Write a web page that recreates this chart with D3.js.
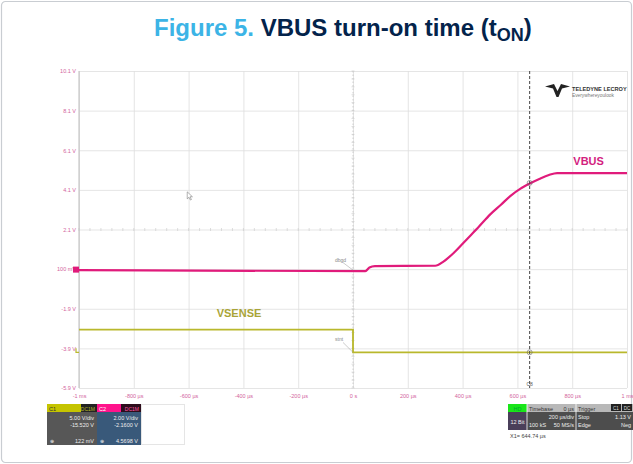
<!DOCTYPE html>
<html>
<head>
<meta charset="utf-8">
<script src="https://cdn.jsdelivr.net/npm/d3@7"></script>
<style>
  body { margin: 0; background: #fff; }
  text { font-family: "Liberation Sans", Arial, sans-serif; }
</style>
</head>
<body>
<div id="chart"></div>
<script>
// data
var xTicks = [-1000, -800, -600, -400, -200, 0, 200, 400, 600, 800, 1000];
var xTickLabels = ["-1 ms", "-800 µs", "-600 µs", "-400 µs", "-200 µs", "0 s", "200 µs", "400 µs", "600 µs", "800 µs", "1 ms"];
var yTicks = [10.1, 8.1, 6.1, 4.1, 2.1, 0.1, -1.9, -3.9, -5.9];
var yTickLabels = ["10.1 V", "8.1 V", "6.1 V", "4.1 V", "2.1 V", "100 mV", "-1.9 V", "-3.9 V", "-5.9 V"];

// VBUS (C2), time in µs, volts on the screen scale
var vbusTime = [-1000, 45, 60, 80, 300, 330, 370, 415, 460, 500, 540, 575, 610, 645, 680, 715, 745, 1000];
var vbusVolt = [0.05, 0.0, 0.18, 0.25, 0.27, 0.48, 0.95, 1.6, 2.25, 2.85, 3.35, 3.8, 4.15, 4.42, 4.65, 4.85, 4.95, 4.95];

// VSENSE (C1)
var vsenseTime = [-1000, 0, 0, 1000];
var vsenseVolt = [-2.95, -2.95, -4.1, -4.1];

var cursorX1 = 644.74; // µs
var triggerTime = 0;

var W = 633, H = 464;
var margin = { top: 71, right: 6, bottom: 76, left: 79 },
    width = W - margin.left - margin.right,
    height = H - margin.top - margin.bottom;

var svg = d3.select("#chart").append("svg")
    .attr("width", W)
    .attr("height", H);

// outer frame
svg.append("rect")
    .attr("x", 1.5).attr("y", 1.5)
    .attr("width", W - 3).attr("height", H - 3)
    .attr("rx", 4)
    .attr("fill", "#fff")
    .attr("stroke", "#c9cdd2")
    .attr("stroke-width", 1.2);

// title
var title = svg.append("text")
    .attr("x", 154).attr("y", 36)
    .style("font-size", "24px")
    .style("font-weight", "bold");
title.append("tspan").attr("fill", "#3cb4e6").text("Figure 5. ");
title.append("tspan").attr("fill", "#03234b").text("VBUS turn-on time (t");
title.append("tspan").attr("fill", "#03234b").attr("dy", 5).style("font-size", "18px").text("ON");
title.append("tspan").attr("fill", "#03234b").attr("dy", -5).text(")");

var g = svg.append("g")
    .attr("transform", "translate(" + margin.left + "," + margin.top + ")");

var x = d3.scaleLinear().domain([-1000, 1000]).range([0, width]);
var y = d3.scaleLinear().domain([-5.9, 10.1]).range([height, 0]);

// grid
g.append("g")
    .attr("class", "grid")
    .call(d3.axisBottom(x).tickValues(xTicks).tickSize(height).tickFormat(""))
    .call(function(s) {
        s.select(".domain").remove();
        s.selectAll("line").attr("stroke", "#dedede").attr("stroke-width", 0.8);
    });
g.append("g")
    .attr("class", "grid")
    .call(d3.axisLeft(y).tickValues(yTicks).tickSize(-width).tickFormat(""))
    .call(function(s) {
        s.select(".domain").remove();
        s.selectAll("line").attr("stroke", "#dedede").attr("stroke-width", 0.8);
    });

// small minor ticks on the centre lines
var minorX = d3.range(-1000, 1001, 40);
g.selectAll(".mx").data(minorX).enter().append("line")
    .attr("x1", function(d) { return x(d); }).attr("x2", function(d) { return x(d); })
    .attr("y1", y(2.1) - 1.5).attr("y2", y(2.1) + 1.5)
    .attr("stroke", "#cfcfcf").attr("stroke-width", 0.7);
var minorY = d3.range(-5.9, 10.11, 0.4);
g.selectAll(".my").data(minorY).enter().append("line")
    .attr("x1", x(0) - 1.5).attr("x2", x(0) + 1.5)
    .attr("y1", function(d) { return y(d); }).attr("y2", function(d) { return y(d); })
    .attr("stroke", "#cfcfcf").attr("stroke-width", 0.7);

// left border of the graticule
g.append("line")
    .attr("x1", 0).attr("x2", 0).attr("y1", 0).attr("y2", height)
    .attr("stroke", "#bdbdbd").attr("stroke-width", 1);

// axis labels (pink, tiny)
var yAxis = g.append("g")
    .call(d3.axisLeft(y).tickValues(yTicks).tickSize(0).tickPadding(3)
        .tickFormat(function(d, i) { return yTickLabels[i]; }));
yAxis.select(".domain").remove();
yAxis.selectAll("text").attr("fill", "#d2639c").style("font-size", "5.5px");

var xAxis = g.append("g")
    .attr("transform", "translate(0," + height + ")")
    .call(d3.axisBottom(x).tickValues(xTicks).tickSize(0).tickPadding(6)
        .tickFormat(function(d, i) { return xTickLabels[i]; }));
xAxis.select(".domain").remove();
xAxis.selectAll("text").attr("fill", "#d2639c").style("font-size", "5.5px");

// trigger line at 0 s
g.append("line")
    .attr("x1", x(triggerTime)).attr("x2", x(triggerTime))
    .attr("y1", 0).attr("y2", height)
    .attr("stroke", "#c4c4c4").attr("stroke-width", 0.8)
    .attr("stroke-dasharray", "1.5,2");

// traces
var line = d3.line()
    .x(function(d) { return x(d[0]); })
    .y(function(d) { return y(d[1]); });

g.append("path")
    .datum(d3.zip(vsenseTime, vsenseVolt))
    .attr("fill", "none")
    .attr("stroke", "#b9b82c")
    .attr("stroke-width", 1.8)
    .attr("d", line);

g.append("path")
    .datum(d3.zip(vbusTime, vbusVolt))
    .attr("fill", "none")
    .attr("stroke", "#e01b7b")
    .attr("stroke-width", 2.2)
    .attr("d", line.curve(d3.curveMonotoneX));

// channel markers on the left edge
g.append("rect")
    .attr("x", -6).attr("y", y(0.05) - 3.5)
    .attr("width", 6).attr("height", 6)
    .attr("fill", "#e01b7b");
g.append("path")
    .attr("d", "M" + (-3) + "," + (y(-4.1) - 4) + "V" + y(-4.1) + "H0")
    .attr("fill", "none").attr("stroke", "#b9b82c").attr("stroke-width", 1.2);

// trigger annotations
[[0.05, "dbgd", 0.48], [-4.1, "stnt", -3.55]].forEach(function(a) {
    var tx = x(0) - 18, ty = y(a[2]);
    g.append("line")
        .attr("x1", tx + 8).attr("y1", ty + 1)
        .attr("x2", x(0)).attr("y2", y(a[0]))
        .attr("stroke", "#999").attr("stroke-width", 0.5);
    g.append("text")
        .attr("x", tx).attr("y", ty)
        .attr("fill", "#888")
        .style("font-size", "5px")
        .text(a[1]);
});

// cursor
g.append("line")
    .attr("x1", x(cursorX1)).attr("x2", x(cursorX1))
    .attr("y1", 0).attr("y2", height)
    .attr("stroke", "#444").attr("stroke-width", 1)
    .attr("stroke-dasharray", "3,2");
[4.45, -4.1].forEach(function(v) {
    g.append("circle")
        .attr("cx", x(cursorX1)).attr("cy", y(v))
        .attr("r", 2.5)
        .attr("fill", "none").attr("stroke", "#666").attr("stroke-width", 0.6);
});
g.append("text")
    .attr("x", x(cursorX1)).attr("y", height - 2)
    .attr("text-anchor", "middle")
    .attr("fill", "#555")
    .style("font-size", "5px")
    .text("C8");

// trace labels
g.append("text")
    .attr("x", x(860)).attr("y", y(5.35))
    .attr("text-anchor", "middle")
    .attr("fill", "#d3217e")
    .style("font-size", "11px").style("font-weight", "bold")
    .text("VBUS");
g.append("text")
    .attr("x", x(-416)).attr("y", y(-2.3))
    .attr("text-anchor", "middle")
    .attr("fill", "#a9a437")
    .style("font-size", "11px").style("font-weight", "bold")
    .text("VSENSE");

// mouse pointer
g.append("path")
    .attr("d", "M" + x(-605) + "," + y(4.0) + "l0,7 l1.8,-1.6 l1.4,2.8 l1,-0.5 l-1.4,-2.8 l2.4,0 z")
    .attr("fill", "#fff").attr("stroke", "#666").attr("stroke-width", 0.5);

// logo
var logo = svg.append("g").attr("transform", "translate(545,84)");
logo.append("path")
    .attr("d", "M0,2.5 L9,0 L12.5,7 L16,0 L25,2.5 L17,4.5 L13.5,13 L11.5,13 L8,4.5 Z")
    .attr("fill", "#222");
logo.append("text").attr("x", 27).attr("y", 6.5)
    .attr("fill", "#333").style("font-size", "5.6px").style("font-weight", "bold")
    .text("TELEDYNE LECROY");
logo.append("text").attr("x", 27).attr("y", 12.5)
    .attr("fill", "#777").style("font-size", "4.8px")
    .text("Everywhereyoulook");

// bottom info boxes (left)
function box(x0, y0, w, h, fill) {
    return svg.append("rect").attr("x", x0).attr("y", y0)
        .attr("width", w).attr("height", h).attr("fill", fill);
}
function txt(x0, y0, s, col, anchor, size) {
    return svg.append("text").attr("x", x0).attr("y", y0)
        .attr("fill", col).attr("text-anchor", anchor || "start")
        .style("font-size", (size || 5.5) + "px").text(s);
}

box(47, 404, 34, 8, "#c5c400"); txt(49, 410.5, "C1", "#333");
box(81, 404, 16, 8, "#232323"); txt(95, 410.5, "DC1M", "#b9b82c", "end", 5);
box(47, 412, 50, 33, "#575757");
txt(94, 420, "5.00 V/div", "#eee", "end");
txt(94, 427, "-15.520 V", "#eee", "end");
txt(50, 443, "⊕", "#eee", "start", 5);
txt(94, 443, "122 mV", "#eee", "end");

box(97, 404, 24, 8, "#ff138c"); txt(99, 410.5, "C2", "#fff");
box(121, 404, 20, 8, "#2e0d1c"); txt(139, 410.5, "DC1M", "#ff5aa8", "end", 5);
box(97, 412, 44, 33, "#39597a");
txt(138, 420, "2.00 V/div", "#eee", "end");
txt(138, 427, "-2.1600 V", "#eee", "end");
txt(100, 443, "⊕", "#eee", "start", 5);
txt(138, 443, "4.5698 V", "#eee", "end");

svg.append("rect").attr("x", 141.5).attr("y", 404.5)
    .attr("width", 43).attr("height", 40)
    .attr("fill", "#fff").attr("stroke", "#aaa").attr("stroke-width", 0.6)
    .attr("stroke-dasharray", "1,1");

// bottom info boxes (right)
box(508, 404, 19, 8, "#19e619"); txt(517.5, 410.5, "HD", "#0a3", "middle");
box(508, 412, 19, 18, "#4a3f5a"); txt(517.5, 424, "12 Bit", "#eee", "middle");
box(527, 404, 49, 8, "#b8b8b8"); txt(529, 410.5, "Timebase", "#333"); txt(574, 410.5, "0 µs", "#333", "end");
box(527, 412, 49, 18, "#4d4d4d");
txt(574, 419, "200 µs/div", "#eee", "end");
txt(529, 427, "100 kS", "#eee"); txt(574, 427, "50 MS/s", "#eee", "end");
box(576, 404, 57, 8, "#b8b8b8"); txt(578, 410.5, "Trigger", "#333");
box(611, 404, 10, 7, "#222"); box(622, 404, 10, 7, "#222");
txt(616, 410, "C1", "#ddd", "middle", 4.5); txt(627, 410, "DC", "#ddd", "middle", 4.5);
box(576, 412, 57, 18, "#4d4d4d");
txt(578, 419, "Stop", "#eee"); txt(631, 419, "1.13 V", "#eee", "end");
txt(578, 427, "Edge", "#eee"); txt(631, 427, "Neg", "#eee", "end");
svg.selectAll("line.sep").data([527, 576]).enter().append("line")
    .attr("x1", function(d) { return d; }).attr("x2", function(d) { return d; })
    .attr("y1", 404).attr("y2", 430).attr("stroke", "#fff").attr("stroke-width", 0.8);
txt(510, 437.5, "X1= 644.74 µs", "#444", "start", 5.5);
</script>
</body>
</html>
